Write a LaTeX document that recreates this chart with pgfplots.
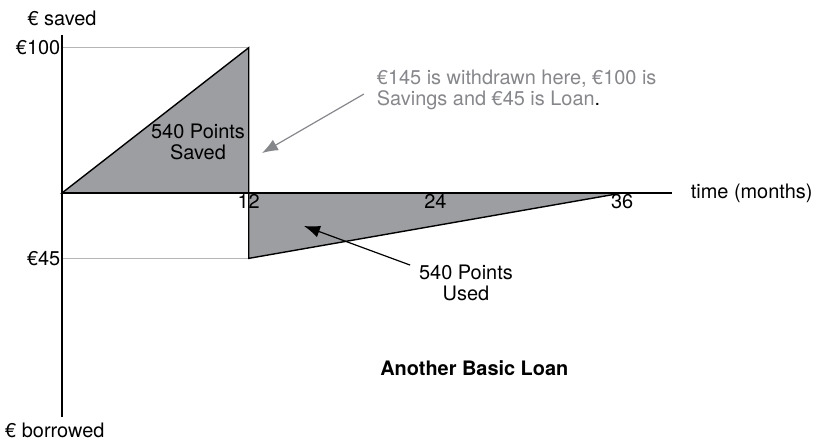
\documentclass[border=0pt]{standalone}
\usepackage{pgfplots}
\pgfplotsset{compat=1.18}
\usepackage{fontspec}
\setmainfont{TeX Gyre Heros}
\usetikzlibrary{arrows.meta}
\definecolor{fillgray}{HTML}{9D9EA2}
\definecolor{notegray}{HTML}{86878B}
\definecolor{linegray}{HTML}{B5B5B5}
\begin{document}
\fontsize{20}{21}\selectfont
\begin{tikzpicture}
\useasboundingbox (-62bp,-24.24bp) rectangle (755bp,416.76bp);
\begin{axis}[
  anchor=origin, at={(0,223.76bp)},
  x=15.56bp, y=1.453bp,
  axis lines=middle,
  axis on top,
  xmin=0, xmax=39.2, ymin=-154, ymax=108.7,
  axis line style={line width=1.4bp, -},
  xtick={12,24,36}, ytick={-45,100}, yticklabels={€45,€100},
  major tick length=0pt,
  tick label style={font=\fontsize{20}{21}\selectfont},
  xticklabel style={inner sep=1.5bp},
  yticklabel style={inner sep=1.5bp},
  /pgf/number format/assume math mode=true,
  clip=false,
]
\draw[linegray, line width=1.2bp] (axis cs:0,100) -- (axis cs:12,100);
\draw[linegray, line width=1.2bp] (axis cs:0,-45) -- (axis cs:12,-45);
\addplot[fill=fillgray, draw=black, line width=1.4bp] coordinates {(0,0) (12,100) (12,0)} -- cycle;
\addplot[fill=fillgray, draw=black, line width=1.4bp] coordinates {(12,0) (12,-45) (36,0)} -- cycle;
\node[align=center] at (axis cs:8.74,35.1) {540 Points\\Saved};
\node[align=left, anchor=west, text=notegray] at (axis cs:19.8,71.2) {€145 is withdrawn here, €100 is\\Savings and €45 is Loan\textcolor{black}{.}};
\draw[notegray, line width=1.2bp, -{Latex[length=16bp,width=12bp]}] (axis cs:19.4,68.1) -- (axis cs:12.85,27.5);
\node[align=center] at (axis cs:25.96,-61.9) {540 Points\\Used};
\draw[black, line width=1.2bp, -{Latex[length=16bp,width=12bp]}] (axis cs:22.37,-49.6) -- (axis cs:15.55,-22.7);
\node[font=\bfseries] at (axis cs:26.5,-120.4) {Another Basic Loan};
\node at (axis cs:0,120.4) {€ saved};
\node[anchor=west, inner sep=0pt] at (axis cs:-3.66,-163.5) {€ borrowed};
\node[anchor=west, inner sep=0pt] at (axis cs:40.4,0) {time (months)};
\end{axis}
\end{tikzpicture}
\end{document}
